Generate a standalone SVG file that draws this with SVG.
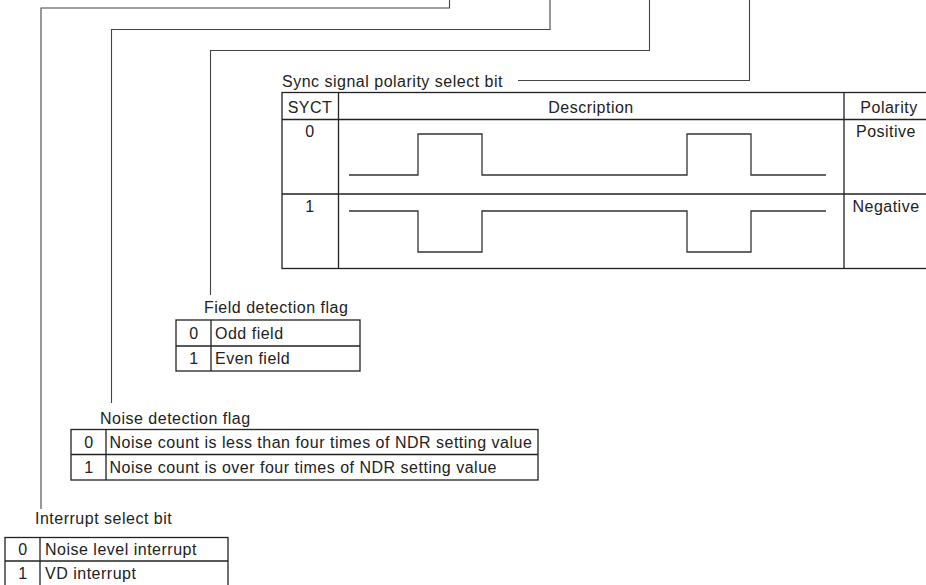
<svg xmlns="http://www.w3.org/2000/svg" width="926" height="585" viewBox="0 0 926 585">
<style>
text{font-family:"Liberation Sans",Arial,sans-serif;font-size:16px;letter-spacing:0.5px;fill:#222}
.c{text-anchor:middle}
.tb{fill:none;stroke:#222;stroke-width:1.3}
.ln{fill:none;stroke:#444;stroke-width:1.1}
.wv{fill:none;stroke:#333;stroke-width:1.3}
</style>
<rect width="926" height="585" fill="#fff"/>
<g id="connectors">
<path class="ln" d="M449.5 0V8H41V509"/>
<path class="ln" d="M550 0V29.5H111.5V403"/>
<path class="ln" d="M649.5 0V50.5H210.5V295"/>
<path class="ln" d="M749.5 0V80.5H518"/>
</g>
<g id="sync-table">
<text x="282" y="87">Sync signal polarity select bit</text>
<rect class="tb" x="282" y="92.5" width="660" height="176"/>
<path class="tb" d="M282 119.5H930M282 194H930M338.5 92.5V268.5M844 92.5V268.5"/>
<text class="c" x="310" y="113">SYCT</text>
<text class="c" x="591" y="113">Description</text>
<text class="c" x="889" y="113">Polarity</text>
<text class="c" x="310" y="137">0</text>
<text class="c" x="886" y="137">Positive</text>
<text class="c" x="310" y="212">1</text>
<text class="c" x="886" y="212">Negative</text>
<path class="wv" d="M349 175H418V134H482V175H687V134H751V175H826"/>
<path class="wv" d="M349 211H418V252H482V211H687V252H751V211H826"/>
</g>
<g id="field-table">
<text x="204" y="313">Field detection flag</text>
<rect class="tb" x="176" y="320" width="184" height="51"/>
<path class="tb" d="M176 346H360M211 320V371"/>
<text class="c" x="194" y="339">0</text>
<text x="215" y="339">Odd field</text>
<text class="c" x="194" y="364">1</text>
<text x="215" y="364">Even field</text>
</g>
<g id="noise-table">
<text x="100" y="424">Noise detection flag</text>
<rect class="tb" x="71" y="429.5" width="467" height="50.5"/>
<path class="tb" d="M71 454.5H538M106 429.5V480"/>
<text class="c" x="89" y="447.5">0</text>
<text x="109.5" y="447.5">Noise count is less than four times of NDR setting value</text>
<text class="c" x="89" y="472.5">1</text>
<text x="109.5" y="472.5">Noise count is over four times of NDR setting value</text>
</g>
<g id="interrupt-table">
<text x="35" y="524">Interrupt select bit</text>
<rect class="tb" x="5" y="537.5" width="223" height="50"/>
<path class="tb" d="M5 561H228M40 537.5V590"/>
<text class="c" x="23" y="555">0</text>
<text x="45" y="555">Noise level interrupt</text>
<text class="c" x="23" y="579">1</text>
<text x="45" y="579">VD interrupt</text>
</g>
</svg>
